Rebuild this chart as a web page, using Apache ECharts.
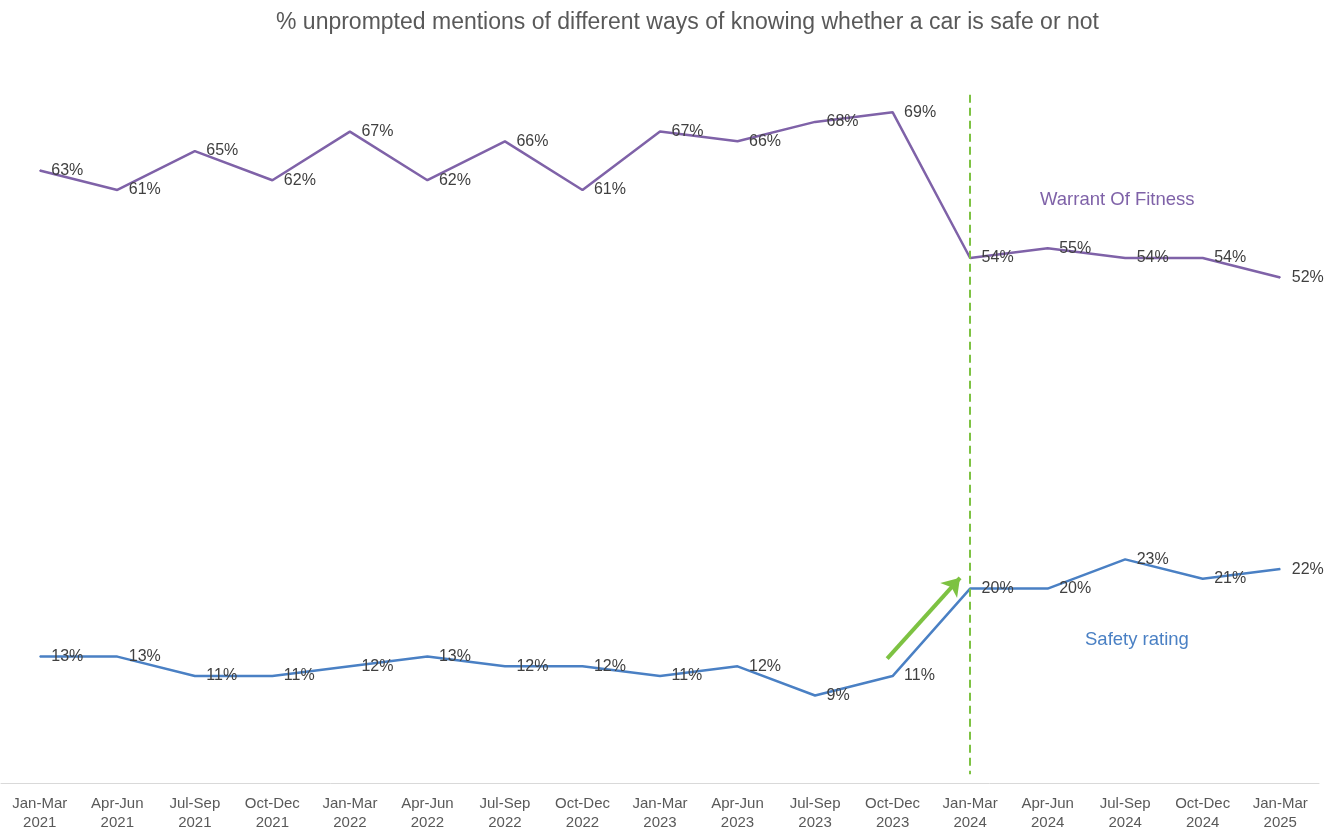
<!DOCTYPE html>
<html>
<head>
<meta charset="utf-8">
<script src="https://cdn.jsdelivr.net/npm/echarts@6/dist/echarts.min.js"></script>
<style>
  html, body { margin: 0; padding: 0; background: #fff; }
  #chart { width: 1337px; height: 832px; }
</style>
</head>
<body>
<div id="chart"></div>
<script>
// quarters along the x axis
var categories = [
  'Jan-Mar\n2021', 'Apr-Jun\n2021', 'Jul-Sep\n2021', 'Oct-Dec\n2021',
  'Jan-Mar\n2022', 'Apr-Jun\n2022', 'Jul-Sep\n2022', 'Oct-Dec\n2022',
  'Jan-Mar\n2023', 'Apr-Jun\n2023', 'Jul-Sep\n2023', 'Oct-Dec\n2023',
  'Jan-Mar\n2024', 'Apr-Jun\n2024', 'Jul-Sep\n2024', 'Oct-Dec\n2024',
  'Jan-Mar\n2025'
];
var warrantOfFitness = [63, 61, 65, 62, 67, 62, 66, 61, 67, 66, 68, 69, 54, 55, 54, 54, 52];
var safetyRating = [13, 13, 11, 11, 12, 13, 12, 12, 11, 12, 9, 11, 20, 20, 23, 21, 22];

// marker for the change point, and the arrow (x in category index units, y in %)
var changeIndex = 12;
var arrowFrom = [10.93, 12.8];
var arrowTo = [11.87, 21.1];

var font = '"Liberation Sans", Arial, Helvetica, sans-serif';
var purple = '#7F62A8';
var blue = '#4A80C4';
var green = '#7DC242';

var chart = echarts.init(document.getElementById('chart'), null, { renderer: 'canvas' });

function pctLabel() {
  return {
    show: true,
    position: 'right',
    distance: 11,
    offset: [0, 4],
    formatter: '{c}%',
    fontSize: 16,
    color: '#404040',
    fontFamily: font
  };
}

chart.setOption({
  animation: false,
  backgroundColor: '#fff',
  textStyle: { fontFamily: font },
  title: {
    text: '% unprompted mentions of different ways of knowing whether a car is safe or not',
    left: 271,
    top: 6,
    textStyle: { fontSize: 23, fontWeight: 'normal', color: '#595959', fontFamily: font }
  },
  grid: { left: 1, right: 18, top: 83, bottom: 49, containLabel: false },
  xAxis: [{
    type: 'category',
    data: categories,
    boundaryGap: true,
    axisLine: { lineStyle: { color: '#D9D9D9', width: 1 } },
    axisTick: { show: false },
    axisLabel: { fontSize: 15, color: '#595959', lineHeight: 19, margin: 11, interval: 0, fontFamily: font }
  }, {
    // hidden value axis matching the category slots, used for the arrow
    type: 'value',
    min: -0.5,
    max: 16.5,
    show: false
  }],
  yAxis: {
    type: 'value',
    min: 0,
    max: 72,
    show: false,
    splitLine: { show: false }
  },
  series: [
    {
      name: 'Warrant Of Fitness',
      type: 'line',
      data: warrantOfFitness,
      symbol: 'circle',
      symbolSize: 1,
      showSymbol: true,
      lineStyle: { color: purple, width: 2.5 },
      itemStyle: { color: purple },
      label: pctLabel(),
      labelLayout: { hideOverlap: false },
      markLine: {
        silent: true,
        symbol: ['none', 'none'],
        label: { show: false },
        lineStyle: { color: green, type: [8, 5], width: 2 },
        data: [[{ coord: [changeIndex, 70.8] }, { coord: [changeIndex, 0.9] }]]
      }
    },
    {
      name: 'Safety rating',
      type: 'line',
      data: safetyRating,
      symbol: 'circle',
      symbolSize: 1,
      showSymbol: true,
      lineStyle: { color: blue, width: 2.5 },
      itemStyle: { color: blue },
      label: pctLabel(),
      labelLayout: { hideOverlap: false }
    },
    {
      name: 'arrow',
      type: 'line',
      xAxisIndex: 1,
      data: [],
      markLine: {
        silent: true,
        symbol: ['none', 'arrow'],
        symbolSize: 17,
        label: { show: false },
        lineStyle: { color: green, type: 'solid', width: 4 },
        data: [[{ coord: arrowFrom }, { coord: arrowTo }]]
      }
    }
  ],
  graphic: [
    {
      type: 'text',
      left: 1040,
      top: 190,
      style: { text: 'Warrant Of Fitness', fontSize: 18.5, fill: purple, fontFamily: font }
    },
    {
      type: 'text',
      left: 1085,
      top: 630,
      style: { text: 'Safety rating', fontSize: 18.5, fill: blue, fontFamily: font }
    }
  ]
});
</script>
</body>
</html>
